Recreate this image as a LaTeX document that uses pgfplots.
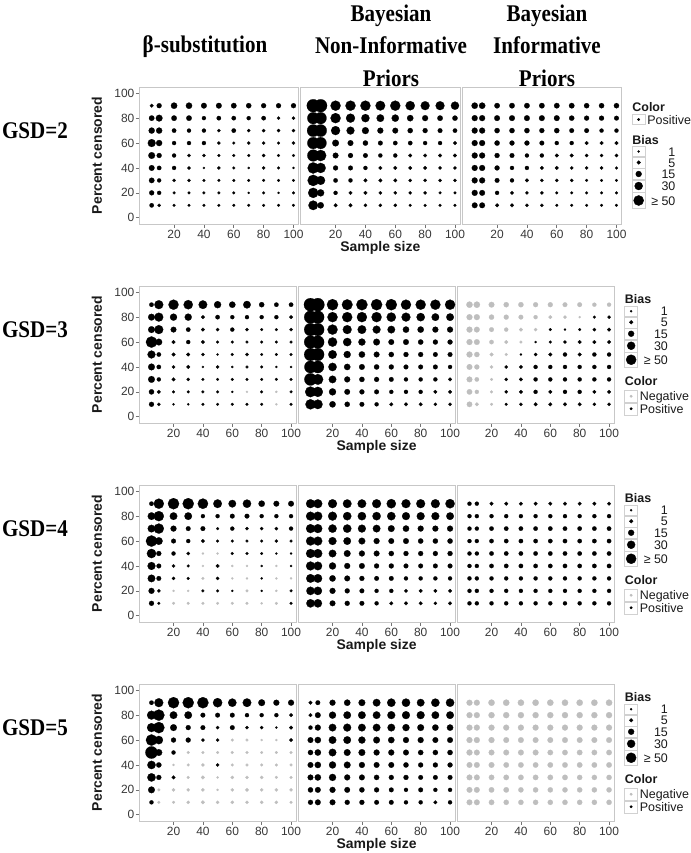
\documentclass[border=0pt]{standalone}
\usepackage{pgfplots}
\pgfplotsset{compat=1.18}
\usepackage{pgfplotstable}
\usepackage{fontspec}
\setmainfont{Liberation Sans}
\newfontfamily\hdr[FakeStretch=0.88]{Liberation Serif}
\definecolor{neg}{RGB}{190,190,190}

% GSD=2
\pgfplotstableread{
pc n5 n10 n20 n30 n40 n50 n60 n70 n80 n90 n100
90 4 8 14 14 11 11 10 9 8 8 8
80 10 16 10 10 5 6 6 5 6 3 3
70 13 13 6 5 5 3 6 3 3 3 3
60 23 13 5 5 5 3 2 3 3 2 3
50 16 8 5 3 3 2 2 2 3 2 2
40 11 6 5 3 1 3 2 1 3 2 1
30 10 5 3 3 2 2 2 2 2 2 2
20 8 5 2 2 2 2 2 1 2 1 2
10 6 3 2 2 2 2 2 2 2 2 2
}\tA
\pgfplotstableread{
pc n5 n10 n20 n30 n40 n50 n60 n70 n80 n90 n100
90 67 67 40 40 40 36 40 33 30 30 25
80 55 55 40 31 25 21 19 14 12 10 9
70 60 60 31 23 17 12 11 9 8 7 6
60 55 55 16 11 9 7 6 6 5 5 4
50 55 50 11 8 7 5 5 4 4 4 4
40 50 40 8 7 5 4 4 4 4 3 3
30 50 30 6 5 4 4 4 3 3 3 3
20 40 18 5 4 4 3 3 3 3 2 2
10 35 14 4 4 3 3 3 2 2 2 2
}\tB
\pgfplotstableread{
pc n5 n10 n20 n30 n40 n50 n60 n70 n80 n90 n100
90 14 14 10 10 10 10 10 10 9 9 9
80 12 12 11 11 11 11 11 9 8 8 7
70 12 12 9 9 9 8 9 7 7 5 5
60 12 12 9 8 8 7 5 5 4 4 4
50 12 12 8 7 5 5 4 4 3 3 3
40 12 12 8 5 5 4 4 3 3 3 2
30 12 12 7 5 4 3 3 3 2 2 2
20 12 11 5 4 3 3 2 2 2 2 2
10 11 11 4 4 3 3 2 2 2 2 2
}\tC
% GSD=3
\pgfplotstableread{
pc n5 n10 n20 n30 n40 n50 n60 n70 n80 n90 n100
90 6 30 40 33 28 18 14 21 9 6 6
80 16 30 18 18 4 6 5 5 5 5 4
70 16 30 11 6 4 3 5 3 2 2 3
60 50 16 4 5 4 2 2 2 2 2 2
50 23 6 4 4 3 1 2 3 2 2 2
40 16 6 3 4 1 3 1 2 2 1 1
30 16 5 4 3 2 2 2 2 2 2 2
20 9 4 2 2 2 2 1 -1 2 -1 2
10 8 3 1 1 2 2 2 2 2 -1 2
}\tD
\pgfplotstableread{
pc n5 n10 n20 n30 n40 n50 n60 n70 n80 n90 n100
90 70 70 50 45 50 50 50 40 40 40 40
80 65 65 40 40 40 40 33 30 26 21 21
70 65 65 40 30 28 23 21 14 14 12 12
60 65 65 33 26 18 16 11 11 9 8 8
50 65 65 28 18 14 11 9 8 8 7 7
40 60 60 26 14 11 9 8 7 7 7 5
30 60 45 21 12 9 8 7 5 5 5 4
20 45 40 18 11 8 7 5 5 5 4 4
10 40 35 14 9 7 5 4 4 4 3 3
}\tE
\pgfplotstableread{
pc n5 n10 n20 n30 n40 n50 n60 n70 n80 n90 n100
90 -14 -14 -11 -9 -9 -8 -8 -7 -7 -5 -5
80 -12 -12 -9 -8 -7 -5 -4 -3 -1 2 3
70 -12 -11 -7 -5 -4 -3 2 1 2 3 4
60 -12 -11 -6 -4 -2 1 2 3 4 4 4
50 -12 -9 -4 -2 1 3 4 5 4 5 5
40 -11 -8 -3 3 4 5 5 5 5 5 5
30 -11 -6 -2 3 4 5 5 5 5 5 5
20 -10 -5 -2 3 4 5 4 5 5 4 4
10 -10 -4 -2 2 3 4 4 4 4 3 3
}\tF
% GSD=4
\pgfplotstableread{
pc n5 n10 n20 n30 n40 n50 n60 n70 n80 n90 n100
90 6 40 50 50 42 28 21 26 14 11 11
80 21 40 21 21 5 5 7 7 5 5 5
70 21 40 12 7 7 2 5 3 3 3 5
60 50 21 7 5 4 2 2 2 2 3 2
50 33 8 5 3 -1 -1 2 2 2 1 1
40 23 7 3 2 -1 4 -1 -1 1 -1 1
30 21 7 3 2 -2 3 -1 -1 1 -1 -1
20 12 3 -1 -1 2 2 1 -2 1 -1 2
10 8 2 -2 -2 -2 -2 -2 -2 -1 -2 2
}\tG
\pgfplotstableread{
pc n5 n10 n20 n30 n40 n50 n60 n70 n80 n90 n100
90 30 30 30 28 28 30 33 30 30 30 33
80 30 30 30 26 26 26 26 23 23 23 21
70 30 30 26 26 23 21 16 14 12 12 12
60 30 30 23 21 16 12 11 11 9 9 9
50 30 30 21 16 12 11 9 8 8 8 8
40 30 28 18 12 11 8 8 7 7 7 7
30 28 28 14 11 8 7 7 5 5 5 5
20 26 26 12 8 7 5 5 4 4 4 4
10 26 26 11 8 7 5 4 4 4 3 4
}\tH
\pgfplotstableread{
pc n5 n10 n20 n30 n40 n50 n60 n70 n80 n90 n100
90 5 5 4 4 4 4 4 4 4 4 4
80 5 5 5 5 5 5 5 5 5 5 5
70 5 5 6 6 6 6 6 6 6 6 6
60 5 5 6 6 6 6 6 6 6 6 6
50 5 5 6 6 6 6 6 6 6 6 6
40 5 5 6 6 6 6 6 6 6 6 6
30 5 5 5 5 5 5 5 5 5 5 5
20 5 5 5 5 5 5 5 5 5 5 5
10 5 5 5 5 5 5 5 5 5 5 5
}\tI
% GSD=5
\pgfplotstableread{
pc n5 n10 n20 n30 n40 n50 n60 n70 n80 n90 n100
90 6 30 50 50 50 33 26 28 16 12 12
80 30 50 21 21 7 7 7 5 5 5 4
70 30 50 16 8 7 3 7 3 3 1 4
60 50 26 8 8 3 3 -2 -2 -1 -1 4
50 60 16 5 -2 -2 -2 -2 -2 -2 -2 -2
40 26 9 -1 -2 -3 3 -2 -2 -2 -2 -2
30 26 8 4 -2 -4 -1 -3 -3 -3 -2 -2
20 16 -2 -3 -3 -3 -1 -3 -4 -3 -3 -3
10 5 -2 -2 -3 -4 -3 -3 -3 -3 -3 -2
}\tJ
\pgfplotstableread{
pc n5 n10 n20 n30 n40 n50 n60 n70 n80 n90 n100
90 4 7 12 14 16 21 26 26 21 26 26
80 4 11 18 21 21 21 23 23 23 21 21
70 5 12 21 23 21 21 21 18 16 14 14
60 11 14 21 21 18 16 14 12 12 11 11
50 9 14 21 16 16 12 12 11 9 9 9
40 11 14 18 16 12 11 11 9 8 8 8
30 11 14 18 12 11 9 8 8 7 7 7
20 9 11 12 11 9 8 7 5 7 5 5
10 8 11 11 8 8 7 7 5 5 4 5
}\tK
\pgfplotstableread{
pc n5 n10 n20 n30 n40 n50 n60 n70 n80 n90 n100
90 -12 -12 -14 -14 -14 -14 -14 -14 -14 -14 -14
80 -12 -12 -13 -13 -13 -13 -13 -13 -13 -13 -13
70 -12 -12 -12 -12 -12 -12 -12 -12 -12 -12 -12
60 -12 -12 -12 -11 -11 -11 -11 -11 -11 -11 -11
50 -12 -11 -11 -11 -11 -11 -10 -10 -10 -10 -10
40 -11 -11 -11 -10 -10 -10 -10 -10 -10 -10 -10
30 -11 -11 -10 -10 -10 -10 -10 -10 -9 -9 -9
20 -11 -11 -10 -10 -9 -9 -9 -9 -9 -9 -9
10 -11 -11 -10 -9 -9 -9 -9 -9 -9 -9 -9
}\tL

\pgfplotsset{
  panel/.style={scale only axis, height=137bp, anchor=north west,
    xmin=-3.5, xmax=103.5, ymin=-5, ymax=105,
    axis line style={draw=black!22, line width=0.8bp},
    xtick={20,40,60,80,100}, ytick={0,20,40,60,80,100},
    tick align=outside, tick pos=left, major tick length=3.5bp,
    tick style={black!55, line width=0.6bp},
    /pgf/number format/assume math mode=true,
    ticklabel style={font=\fontsize{12}{12}\selectfont, text=black!78},
    xticklabel style={inner sep=2bp}, yticklabel style={inner sep=1bp},
    point meta min=0, point meta max=1,
    colormap={bw}{rgb255=(190,190,190) rgb255=(0,0,0)},
    clip=false,
    every axis y label/.style={at={(axis description cs:0,0.5)}, xshift=-42bp, rotate=90, anchor=center,
      font=\bfseries\fontsize{14}{14}\selectfont, text=black!90},
    every axis x label/.style={at={(axis description cs:0.5,0)}, yshift=-24bp, anchor=center,
      font=\bfseries\fontsize{14}{14}\selectfont, text=black!90},
  },
  noy/.style={ytick=\empty},
  bub/.style={scatter, only marks, mark=*,
    scatter/use mapped color={draw=mapped color, fill=mapped color},
    mark options={line width=0.2bp},
    scatter/@pre marker code/.append style={/tikz/mark size={1.12*(1+0.659*(sqrt(\bv)-1))}}},
  lgd/.style={legend cell align=left,
    legend style={draw=none, fill=none, at={(1,0.5)}, anchor=west, xshift=10bp,
      inner sep=0pt, row sep=0bp, column sep=2bp,
      nodes={inner sep=0pt, text height=9bp, text depth=0bp,
        font=\fontsize{12.5}{12.5}\selectfont, text=black!90}}},
  lkey/.style n args={3}{legend image code/.code={%
      \draw[black!18, line width=0.5bp, fill=white] (0bp,-#1bp) rectangle (13bp,#1bp);
      \fill[#3] (6.5bp,0bp) circle[radius=#2bp];}},
  ltitle/.style n args={2}{legend image code/.code={%
      \path[draw=none, fill=none] (0bp,-#1bp) rectangle (13bp,#2bp);}},
}

\newcommand{\bubbles}[1]{%
  \pgfplotsinvokeforeach{5,10,20,30,40,50,60,70,80,90,100}{%
    \addplot[bub, point meta={\thisrow{n##1}>0},
      visualization depends on={abs(\thisrow{n##1})\as\bv}]
      table[x expr=##1, y=pc] {#1};
  }%
}
\newcommand{\biaslegend}{%
  \addlegendimage{lkey={5}{1}{black}}\addlegendentry{\makebox[28bp][r]{1}}
  \addlegendimage{lkey={5.5}{1.82}{black}}\addlegendentry{\makebox[28bp][r]{5}}
  \addlegendimage{lkey={5.5}{2.89}{black}}\addlegendentry{\makebox[28bp][r]{15}}
  \addlegendimage{lkey={6}{3.95}{black}}\addlegendentry{\makebox[28bp][r]{30}}
}
% one row of three panels: #1 = top (bp, negative), #2 #3 #4 = tables
\newcommand{\gsdrow}[4]{%
\begin{axis}[panel, width=157.2bp, at={(139bp,#1bp)}, ylabel={Percent censored}]
\bubbles{#2}
\end{axis}
\begin{axis}[panel, noy, width=157.2bp, at={(298bp,#1bp)}, xlabel={Sample size}]
\bubbles{#3}
\end{axis}
\begin{axis}[panel, noy, lgd, width=157.2bp, at={(457bp,#1bp)}]
\addlegendimage{ltitle={7}{5}}\addlegendentry{\hspace*{-15bp}\textbf{Bias}}
\biaslegend
\addlegendimage{lkey={7.5}{5}{black}}\addlegendentry{\makebox[28bp][r]{≥ 50}}
\addlegendimage{ltitle={9}{13.5}}\addlegendentry{\hspace*{-15bp}\textbf{Color}}
\addlegendimage{lkey={6}{1.2}{neg}}\addlegendentry{Negative}
\addlegendimage{lkey={6}{1.2}{black}}\addlegendentry{Positive}
\bubbles{#4}
\end{axis}
}

\begin{document}
\begin{tikzpicture}
\useasboundingbox (0,0) rectangle (691bp,-853bp);

\begin{scope}[every node/.style={font=\hdr\bfseries\fontsize{24}{32.5}\selectfont, align=center}]
\node at (205bp,-47bp) {β-substitution};
\node at (391bp,-45.5bp) {Bayesian\\Non-Informative\\Priors};
\node at (547bp,-45.5bp) {Bayesian\\Informative\\Priors};
\node at (35bp,-131bp) {GSD=2};
\node at (35bp,-330bp) {GSD=3};
\node at (35bp,-529bp) {GSD=4};
\node at (35bp,-728bp) {GSD=5};
\end{scope}

% ---------- GSD=2
\begin{axis}[panel, width=159.7bp, at={(139bp,-87bp)}, ylabel={Percent censored}]
\bubbles{\tA}
\end{axis}
\begin{axis}[panel, noy, width=159.7bp, at={(300.5bp,-87bp)}, xlabel={Sample size}]
\bubbles{\tB}
\end{axis}
\begin{axis}[panel, noy, lgd, width=159.7bp, at={(462bp,-87bp)}]
\addlegendimage{ltitle={7}{5}}\addlegendentry{\hspace*{-15bp}\textbf{Color}}
\addlegendimage{lkey={5}{1.2}{black}}\addlegendentry{Positive}
\addlegendimage{ltitle={6.5}{15}}\addlegendentry{\hspace*{-15bp}\textbf{Bias}}
\biaslegend
\addlegendimage{lkey={8}{5}{black}}\addlegendentry{\makebox[28bp][r]{≥ 50}}
\bubbles{\tC}
\end{axis}

% ---------- GSD=3, 4, 5
\gsdrow{-286}{\tD}{\tE}{\tF}
\gsdrow{-485}{\tG}{\tH}{\tI}
\gsdrow{-684}{\tJ}{\tK}{\tL}
\end{tikzpicture}
\end{document}
